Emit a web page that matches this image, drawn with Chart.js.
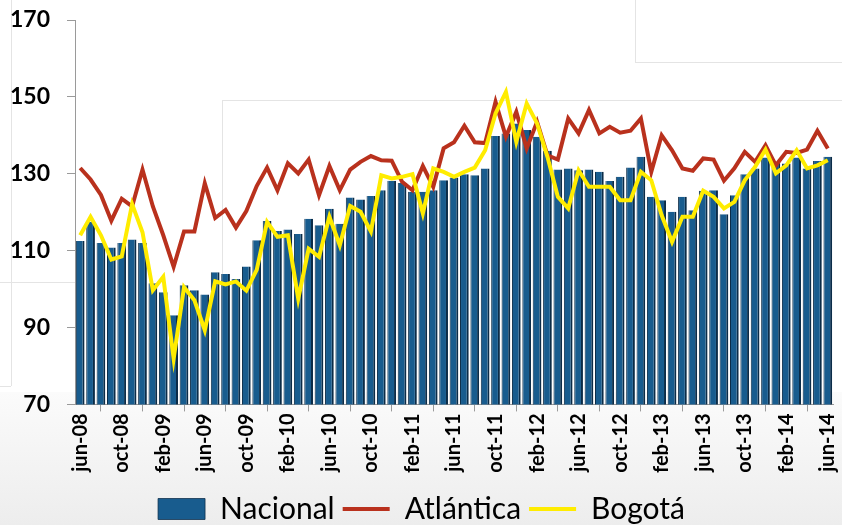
<!DOCTYPE html>
<html>
<head>
<meta charset="utf-8">
<script src="https://cdn.jsdelivr.net/npm/chart.js@4.4.0/dist/chart.umd.min.js"></script>
<style>
    html, body { margin: 0; padding: 0; background: #fff; }
    #wrap { position: relative; width: 842px; height: 525px; overflow: hidden; }
    .deco { position: absolute; border-color: #e4e4e4; border-style: solid; border-width: 0; }
    #chartCanvas { position: absolute; left: 0; top: 0; }
</style>
</head>
<body>
<div id="wrap">
    <!-- faint slide leftovers behind the chart -->
    <div class="deco" style="left:0;top:392px;width:842px;height:133px;background:linear-gradient(#fbfbfb,#ededed);"></div>
    <div class="deco" style="left:11px;top:0;width:0;height:386px;border-left-width:1px;"></div>
    <div class="deco" style="left:0;top:282px;width:75px;height:0;border-top-width:1px;"></div>
    <div class="deco" style="left:0;top:386px;width:11px;height:0;border-top-width:1px;"></div>
    <div class="deco" style="left:222px;top:100px;width:620px;height:185px;border-top-width:1px;border-left-width:1px;"></div>
    <div class="deco" style="left:635px;top:0;width:207px;height:62px;border-left-width:1px;border-bottom-width:1px;"></div>
    <canvas id="chartCanvas" width="842" height="525"></canvas>
</div>
<script>
const meses = [
    "jun-08", "jul-08", "ago-08", "sep-08", "oct-08", "nov-08", "dic-08",
    "ene-09", "feb-09", "mar-09", "abr-09", "may-09", "jun-09", "jul-09", "ago-09", "sep-09", "oct-09", "nov-09", "dic-09",
    "ene-10", "feb-10", "mar-10", "abr-10", "may-10", "jun-10", "jul-10", "ago-10", "sep-10", "oct-10", "nov-10", "dic-10",
    "ene-11", "feb-11", "mar-11", "abr-11", "may-11", "jun-11", "jul-11", "ago-11", "sep-11", "oct-11", "nov-11", "dic-11",
    "ene-12", "feb-12", "mar-12", "abr-12", "may-12", "jun-12", "jul-12", "ago-12", "sep-12", "oct-12", "nov-12", "dic-12",
    "ene-13", "feb-13", "mar-13", "abr-13", "may-13", "jun-13", "jul-13", "ago-13", "sep-13", "oct-13", "nov-13", "dic-13",
    "ene-14", "feb-14", "mar-14", "abr-14", "may-14", "jun-14"
];

const nacional = [
    112.5, 117.5, 112.0, 110.8, 112.0, 112.9, 112.0,
    101.5, 99.2, 93.2, 101.0, 99.7, 98.6, 104.4, 103.9, 102.6, 105.9, 112.7, 117.7,
    115.1, 115.5, 114.3, 118.3, 116.6, 120.9, 117.0, 123.8, 123.3, 124.2, 125.7, 128.2,
    127.6, 125.3, 125.3, 125.7, 128.3, 129.0, 129.9, 129.6, 131.4, 139.8, 140.5, 143.1,
    141.4, 139.6, 136.0, 131.1, 131.4, 130.9, 131.1, 130.5, 128.1, 129.2, 131.6, 134.4,
    124.0, 123.1, 120.1, 124.0, 120.5, 125.6, 125.7, 119.5, 124.4, 129.9, 131.4, 134.2,
    133.1, 132.7, 134.2, 131.4, 133.3, 134.4
];

const atlantica = [
    131.5, 128.5, 124.5, 117.8, 123.5, 121.5, 131.1,
    121.5, 114.0, 105.8, 115.0, 115.0, 127.5, 118.5, 120.6, 116.0, 120.3, 126.8, 131.6,
    125.7, 132.7, 130.1, 133.7, 124.4, 132.0, 125.7, 131.1, 133.1, 134.6, 133.5, 133.4,
    127.9, 125.7, 132.0, 126.6, 136.6, 138.2, 142.5, 138.2, 138.0, 148.7, 139.6, 146.1,
    136.6, 143.5, 134.8, 133.7, 144.4, 140.5, 146.6, 140.5, 142.2, 140.7, 141.2, 144.4,
    130.5, 140.0, 136.1, 131.4, 130.8, 134.0, 133.7, 128.2, 131.4, 135.7, 133.1, 137.4,
    132.2, 135.7, 135.4, 136.3, 141.2, 136.6
];

const bogota = [
    114.0, 118.8, 114.0, 107.7, 108.5, 122.1, 114.8,
    99.7, 103.2, 81.9, 100.5, 97.1, 89.3, 102.0, 101.2, 102.0, 99.6, 105.0, 117.5,
    113.6, 114.0, 97.5, 110.5, 108.4, 118.8, 111.4, 121.6, 120.1, 115.0, 129.6, 128.8,
    129.2, 129.9, 119.7, 131.4, 130.5, 129.2, 130.5, 131.6, 136.1, 145.7, 151.3, 138.3,
    148.3, 143.1, 134.4, 124.0, 121.0, 130.9, 126.6, 126.6, 126.6, 123.1, 123.1, 130.5,
    128.3, 119.2, 112.3, 118.8, 118.8, 125.6, 124.0, 121.0, 122.7, 128.3, 131.8, 136.3,
    130.1, 132.2, 136.1, 131.4, 132.2, 133.5
];

const fontName = "Lato, 'Liberation Sans', sans-serif";

new Chart(document.getElementById('chartCanvas').getContext('2d'), {
    type: 'bar',
    data: {
        labels: meses,
        datasets: [{
            label: 'Nacional',
            data: nacional,
            backgroundColor: '#185c8e',
            borderColor: '#0b2c48',
            borderWidth: { left: 1, right: 2, top: 0, bottom: 0 },
            barPercentage: 0.84,
            categoryPercentage: 1,
            pointStyle: 'rect',
            order: 2
        }, {
            type: 'line',
            label: 'Atlántica',
            data: atlantica,
            borderColor: '#b9311d',
            backgroundColor: '#b9311d',
            borderWidth: 4,
            pointRadius: 0,
            tension: 0,
            pointStyle: 'line',
            order: 1
        }, {
            type: 'line',
            label: 'Bogotá',
            data: bogota,
            borderColor: '#ffec00',
            backgroundColor: '#ffec00',
            borderWidth: 4,
            pointRadius: 0,
            tension: 0,
            pointStyle: 'line',
            order: 0
        }]
    },
    options: {
        responsive: false,
        animation: false,
        layout: {
            padding: { left: 10, right: 9, top: 20, bottom: -9 }
        },
        scales: {
            x: {
                offset: true,
                afterFit: function (scale) {
                    scale.paddingLeft = 0;
                    scale.paddingRight = 0;
                    scale.height += 11; // room so the legend sits lower
                },
                grid: {
                    offset: true,
                    drawOnChartArea: false,
                    tickLength: 7,
                    color: '#9a9a9a'
                },
                border: { color: '#9a9a9a' },
                ticks: {
                    autoSkip: false,
                    maxRotation: 90,
                    minRotation: 90,
                    padding: 2,
                    color: '#000',
                    font: { family: fontName, size: 20, weight: 'bold' },
                    callback: function (val, i) {
                        return i % 4 === 0 ? this.getLabelForValue(val) : null;
                    }
                }
            },
            y: {
                min: 70,
                max: 170,
                afterFit: function (scale) {
                    scale.width = 65; // keeps the axis line at x = 75
                    scale.paddingTop = 0;
                    scale.paddingBottom = 0;
                },
                grid: {
                    drawOnChartArea: false,
                    tickLength: 8,
                    color: '#9a9a9a'
                },
                border: { color: '#9a9a9a' },
                ticks: {
                    stepSize: 20,
                    padding: 17,
                    color: '#000',
                    font: { family: fontName, size: 23, weight: 'bold' }
                }
            }
        },
        plugins: {
            legend: {
                position: 'bottom',
                labels: {
                    usePointStyle: true,
                    pointStyleWidth: 47,
                    boxWidth: 47,
                    boxHeight: 21,
                    padding: 8,
                    color: '#000',
                    font: { family: fontName, size: 30 },
                    sort: (a, b) => a.datasetIndex - b.datasetIndex
                }
            },
            tooltip: { enabled: false }
        }
    }
});
</script>
</body>
</html>
